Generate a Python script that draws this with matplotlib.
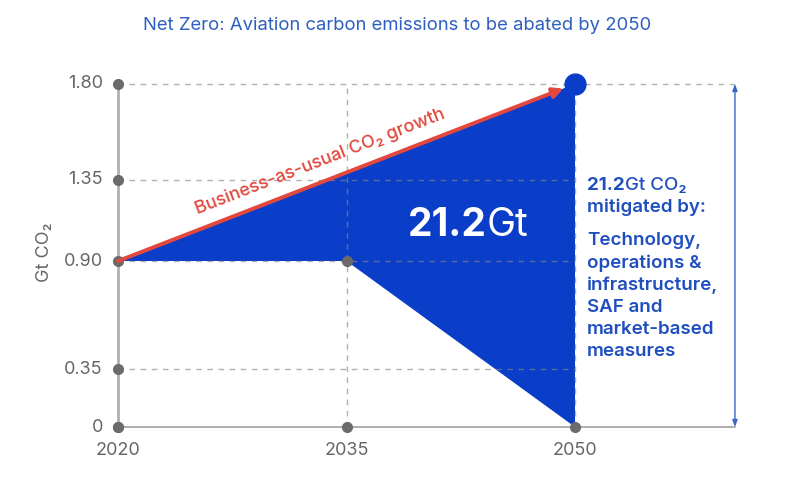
import numpy as np
import matplotlib.pyplot as plt

plt.rcParams['font.family'] = ['Inter', 'DejaVu Sans']

# data
bau_years = [2020, 2050]
bau_values = [0.90, 1.80]
target_years = [2020, 2035, 2050]
target_values = [0.90, 0.90, 0.0]
x_ticks = [2020, 2035, 2050]
y_ticks = [0, 0.35, 0.90, 1.35, 1.80]
y_tick_labels = ['0', '0.35', '0.90', '1.35', '1.80']
title = 'Net Zero: Aviation carbon emissions to be abated by 2050'
abated_total = '21.2'

# the illustration uses an uneven vertical spacing between ticks
knots_v = [-0.338, 0, 0.35, 0.90, 1.35, 1.80, 2.194]
knots_px = [0, 56, 114, 222, 303, 399, 483]

def fwd(v):
    return np.interp(v, knots_v, knots_px)

def inv(p):
    return np.interp(p, knots_px, knots_v)

BLUE = '#0a3dc8'
TXT_BLUE = '#1f4fbf'
DOT = '#6b6b6b'
RED = '#e2483d'

fig = plt.figure(figsize=(8, 4.83), dpi=100)
ax = fig.add_axes([0, 0, 1, 1])
ax.set_yscale('function', functions=(fwd, inv))
ax.set_xlim(2012.25, 2064.77)
ax.set_ylim(-0.338, 2.194)
ax.axis('off')

x_end = 2060.5

# shaded area between business-as-usual and the net-zero path
poly_x = bau_years + target_years[::-1]
poly_y = bau_values + target_values[::-1]
ax.fill(poly_x, poly_y, color=BLUE, lw=0, zorder=2)

# dashed grid
for v in y_ticks[1:]:
    right = x_end if v == y_ticks[-1] else x_ticks[-1]
    ax.plot([x_ticks[0], right], [v, v], ls=(0, (4, 4)), color='#888888',
            alpha=0.65, lw=1, zorder=3)
for x in x_ticks[1:]:
    ax.plot([x, x], [0, y_ticks[-1]], ls=(0, (4, 4)), color='#888888',
            alpha=0.65, lw=1, zorder=3)

# axes lines
ax.plot([x_ticks[0], x_ticks[0]], [0, y_ticks[-1]], color='#b0b0b0', lw=2, zorder=3)
ax.plot([x_ticks[0], x_end], [0, 0], color='#a0a0a0', lw=1.2, zorder=3)

# tick dots and labels
ax.plot([x_ticks[0]] * len(y_ticks), y_ticks, 'o', color=DOT, ms=7, zorder=5)
ax.plot(x_ticks, [0] * len(x_ticks), 'o', color=DOT, ms=7, zorder=5)
ax.plot(target_years[1], target_values[1], 'o', color=DOT, ms=7, zorder=5)
for v, lab in zip(y_ticks, y_tick_labels):
    ax.annotate(lab, (x_ticks[0], v), xytext=(-11, 0), textcoords='offset points',
                ha='right', va='center', fontsize=13, color='#666666')
for x in x_ticks:
    ax.annotate(str(x), (x, 0), xytext=(0, -11), textcoords='offset points',
                ha='center', va='top', fontsize=13, color='#666666')
ax.text(2015.2, 0.95, 'Gt CO₂', rotation=90, ha='center', va='center',
        fontsize=13, color='#666666')

# business-as-usual arrow
ax.annotate('', xy=(bau_years[1], bau_values[1]), xytext=(bau_years[0], bau_values[0]),
            arrowprops=dict(arrowstyle='-|>,head_length=0.6,head_width=0.3',
                            color=RED, lw=2.8, shrinkA=0, shrinkB=9),
            zorder=6)
ax.plot(bau_years[1], bau_values[1], 'o', color=BLUE, ms=15, zorder=7)
ax.annotate('Business-as-usual CO₂ growth', (2033.7, 1.355), xytext=(-5, 12.5),
            textcoords='offset points', rotation=21.2, rotation_mode='anchor',
            ha='center', va='center', fontsize=13, color=RED, fontweight='medium')

# total inside the triangle
big = ax.text(2039.0, 1.10, abated_total, ha='left', va='center', fontsize=28,
              fontweight='bold', color='white', zorder=8)
ax.annotate('Gt', xy=(1, 0), xycoords=big, ha='left', va='bottom', fontsize=28,
            color='white', zorder=8)

# right-hand explanation
t1 = ax.text(2050.8, 1.32, abated_total, ha='left', va='center', fontsize=13.5,
             fontweight='bold', color=TXT_BLUE)
ax.annotate('Gt CO₂', xy=(1, 0), xycoords=t1, ha='left', va='bottom', fontsize=13.5,
            fontweight='medium', color=TXT_BLUE)
ax.text(2050.8, 1.20, 'mitigated by:', ha='left', va='center', fontsize=13.5,
        fontweight='semibold', color=TXT_BLUE)
ax.text(2050.8, 1.06,
        'Technology,\noperations &\ninfrastructure,\nSAF and\nmarket-based\nmeasures',
        ha='left', va='top', fontsize=13.5, fontweight='semibold', color=TXT_BLUE,
        linespacing=1.38)

# double-headed bracket arrow
ax.annotate('', xy=(x_end, y_ticks[-1]), xytext=(x_end, 0),
            arrowprops=dict(arrowstyle='<|-|>,head_length=0.4,head_width=0.15',
                            color='#3a64c8', lw=1, shrinkA=0, shrinkB=0))

fig.text(0.496, 0.948, title, ha='center', va='center', fontsize=13.3, color='#2e5ec2')

fig.savefig('out.png', dpi=100)
